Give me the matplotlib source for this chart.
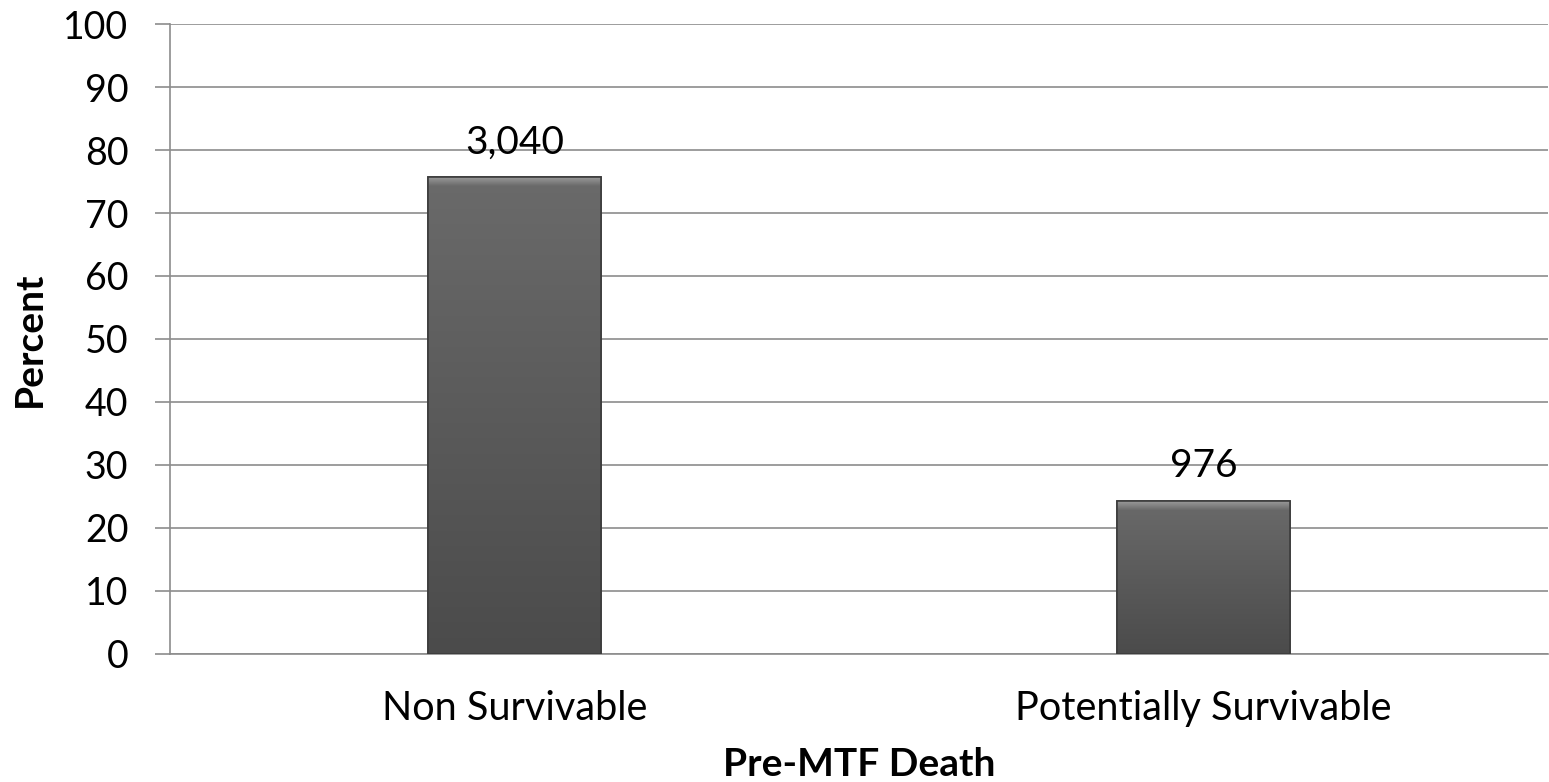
import matplotlib

matplotlib.use("Agg")
import matplotlib.pyplot as plt
import numpy as np
from matplotlib.colors import LinearSegmentedColormap
from matplotlib.patches import Rectangle

categories = ["Non Survivable", "Potentially Survivable"]
counts = [3040, 976]
yticks = [0, 10, 20, 30, 40, 50, 60, 70, 80, 90, 100]

percent = np.array(counts) / sum(counts) * 100

plt.rcParams["font.family"] = ["Lato", "DejaVu Sans"]
grid_color = "#8c8c8c"

fig = plt.figure(figsize=(15.49, 7.82), dpi=100)
ax = fig.add_axes([0.1097, 0.1637, 0.8897, 0.8056])

x = np.arange(len(categories))
bars = ax.bar(x, percent, width=0.25, color="#5e5e5e", edgecolor="#3c3c3c",
              linewidth=1.2, zorder=3)

body_cmap = LinearSegmentedColormap.from_list("body", ["#4b4b4b", "#6a6a6a"])
bevel_cmap = LinearSegmentedColormap.from_list("bevel", ["#6a6a6a", "#9a9a9a"])
grad = np.linspace(0, 1, 256).reshape(-1, 1)

# vertical shading plus a light bevel along the top of each bar
for b in bars:
    bx, bw, bh = b.get_x(), b.get_width(), b.get_height()
    img = ax.imshow(grad, cmap=body_cmap, origin="lower", aspect="auto",
                    extent=[bx, bx + bw, 0, bh], zorder=3.5)
    img.set_clip_path(b)
    bev = ax.imshow(grad, cmap=bevel_cmap, origin="lower", aspect="auto",
                    extent=[bx, bx + bw, bh - 1.4, bh], zorder=4)
    bev.set_clip_path(b)
    ax.add_patch(Rectangle((bx, 0), bw, bh, fill=False, ec="#3c3c3c", lw=1.2, zorder=5))

for xi, p, c in zip(x, percent, counts):
    ax.annotate(f"{c:,}", (xi, p), xytext=(0, 12), textcoords="offset points",
                ha="center", va="bottom", fontsize=28)

ax.set_xlim(-0.5, len(categories) - 0.5)
ax.set_ylim(0, 100)
ax.set_yticks(yticks)
ax.set_xticks(x)
ax.set_xticklabels(categories, fontsize=28.5)
ax.tick_params(axis="y", labelsize=27, length=11, width=1.2, color=grid_color, pad=19)
ax.tick_params(axis="x", length=0, pad=26)
ax.yaxis.grid(True, color=grid_color, linewidth=1.2, zorder=0)
ax.set_axisbelow(True)

for side in ["top", "right"]:
    ax.spines[side].set_visible(False)
for side in ["left", "bottom"]:
    ax.spines[side].set_color(grid_color)
    ax.spines[side].set_linewidth(1.2)

ax.set_ylabel("Percent", fontsize=28, fontweight="bold", labelpad=12)
ax.set_xlabel("Pre-MTF Death", fontsize=28, fontweight="bold", labelpad=14)

fig.savefig("out.png", dpi=100)
plt.close(fig)
